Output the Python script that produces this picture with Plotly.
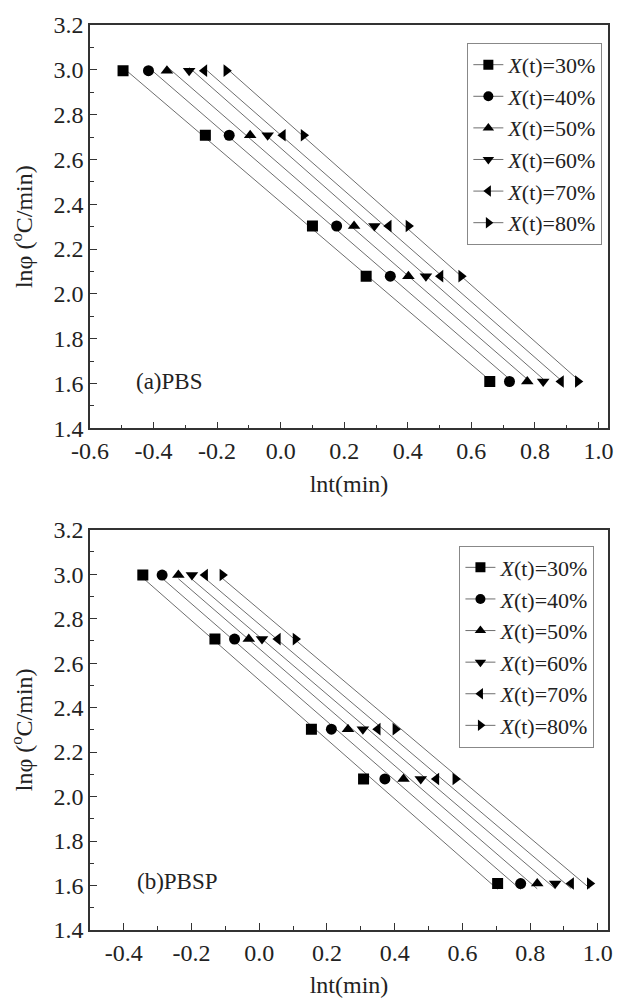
import numpy as np
import plotly.graph_objects as go

# ---- data ----
ln_phi = [2.996, 2.708, 2.303, 2.079, 1.609]
series_labels = ["30%", "40%", "50%", "60%", "70%", "80%"]
symbols = ["square", "circle", "triangle-up", "triangle-down", "triangle-left", "triangle-right"]

pbs_x30 = [-0.496, -0.237, 0.100, 0.269, 0.658]
pbs_x40 = [-0.416, -0.162, 0.176, 0.345, 0.720]
pbs_x50 = [-0.358, -0.096, 0.231, 0.402, 0.776]
pbs_x60 = [-0.288, -0.041, 0.295, 0.457, 0.826]
pbs_x70 = [-0.240, 0.007, 0.340, 0.503, 0.882]
pbs_x80 = [-0.171, 0.072, 0.402, 0.568, 0.935]

pbsp_x30 = [-0.344, -0.131, 0.154, 0.308, 0.704]
pbsp_x40 = [-0.287, -0.073, 0.213, 0.371, 0.772]
pbsp_x50 = [-0.239, -0.031, 0.262, 0.426, 0.821]
pbsp_x60 = [-0.199, 0.008, 0.306, 0.477, 0.874]
pbsp_x70 = [-0.160, 0.055, 0.350, 0.523, 0.921]
pbsp_x80 = [-0.109, 0.107, 0.402, 0.579, 0.976]

x_ticks_top = [-0.6, -0.4, -0.2, 0.0, 0.2, 0.4, 0.6, 0.8, 1.0]
x_ticks_bot = [-0.4, -0.2, 0.0, 0.2, 0.4, 0.6, 0.8, 1.0]
y_ticks = [1.4, 1.6, 1.8, 2.0, 2.2, 2.4, 2.6, 2.8, 3.0, 3.2]

panels = [
    dict(xs=[pbs_x30, pbs_x40, pbs_x50, pbs_x60, pbs_x70, pbs_x80], xa="x", ya="y", legend="legend"),
    dict(xs=[pbsp_x30, pbsp_x40, pbsp_x50, pbsp_x60, pbsp_x70, pbsp_x80], xa="x2", ya="y2", legend="legend2"),
]

FONT = "Times New Roman, Liberation Serif, serif"
TXT = "#222222"
LINE_C = "#6e6e6e"
W, H = 625, 1006
ML, MR, MT, MB = 90, 12, 22, 73
plot_h = H - MT - MB
plot_w = W - ML - MR

def py(px):
    return 1 - (px - MT) / plot_h

fig = go.Figure()
for p in panels:
    for xs, lab, sym in zip(p["xs"], series_labels, symbols):
        xarr = np.array(xs)
        yarr = np.array(ln_phi)
        b, a = np.polyfit(xarr, yarr, 1)
        xe = np.array([xarr.min(), xarr.max()])
        fig.add_trace(go.Scatter(x=xe, y=a + b * xe, mode="lines",
                                 line=dict(color=LINE_C, width=1),
                                 xaxis=p["xa"], yaxis=p["ya"], showlegend=False,
                                 hoverinfo="skip"))
        fig.add_trace(go.Scatter(x=xs, y=ln_phi, mode="markers",
                                 marker=dict(symbol=sym, color="black", size=11),
                                 xaxis=p["xa"], yaxis=p["ya"], showlegend=False))
        fig.add_trace(go.Scatter(x=[None], y=[None], mode="lines+markers",
                                 name=f"<i>X</i>(t)={lab}",
                                 line=dict(color=LINE_C, width=1),
                                 marker=dict(symbol=sym, color="black", size=10),
                                 xaxis=p["xa"], yaxis=p["ya"], legend=p["legend"]))


def make_axis(rng, tickvals, domain, anchor, title, standoff):
    return dict(
        showline=True, linecolor="#333333", linewidth=1.5, mirror=True,
        ticks="inside", ticklen=7, tickwidth=1.2, tickcolor="#333333",
        showgrid=False, zeroline=False,
        tickfont=dict(family=FONT, size=24, color=TXT),
        tickmode="array", tickvals=tickvals, ticktext=[f"{v:.1f}" for v in tickvals],
        minor=dict(ticks="inside", ticklen=4, tickwidth=1, tickcolor="#333333",
                   tickmode="linear", dtick=0.1, tick0=0),
        range=rng, domain=domain, anchor=anchor,
        title=dict(text=title, font=dict(family=FONT, size=24, color=TXT), standoff=standoff),
    )


top_dom = [py(428), 1.0]
bot_dom = [0.0, py(530)]

fig.update_layout(
    width=W, height=H,
    margin=dict(l=ML, r=MR, t=MT, b=MB),
    paper_bgcolor="white", plot_bgcolor="white",
    font=dict(family=FONT, color=TXT, size=24),
    xaxis=make_axis([-0.6, 1.03], x_ticks_top, [0, 1], "y", "lnt(min)", 12),
    yaxis=make_axis([1.4, 3.2], y_ticks, top_dom, "x", "lnφ (<sup>o</sup>C/min)", 14),
    xaxis2=make_axis([-0.5, 1.03], x_ticks_bot, [0, 1], "y2", "lnt(min)", 12),
    yaxis2=make_axis([1.4, 3.2], y_ticks, bot_dom, "x2", "lnφ (<sup>o</sup>C/min)", 14),
    legend=dict(x=(471 - ML) / plot_w, y=py(40), xanchor="left", yanchor="top",
                bordercolor="#888888", borderwidth=1, bgcolor="white",
                font=dict(family=FONT, size=22, color=TXT), tracegroupgap=0,
                itemwidth=30),
    legend2=dict(x=(463 - ML) / plot_w, y=py(546), xanchor="left", yanchor="top",
                 bordercolor="#888888", borderwidth=1, bgcolor="white",
                 font=dict(family=FONT, size=22, color=TXT), tracegroupgap=0,
                 itemwidth=30),
    annotations=[
        dict(text="(a)PBS", x=-0.46, y=1.61, xref="x", yref="y", showarrow=False,
             xanchor="left", yanchor="middle", font=dict(family=FONT, size=23, color=TXT)),
        dict(text="(b)PBSP", x=-0.368, y=1.62, xref="x2", yref="y2", showarrow=False,
             xanchor="left", yanchor="middle", font=dict(family=FONT, size=23, color=TXT)),
    ],
)

fig.write_html("out.html", config={"displayModeBar": False},
               post_script="document.body.style.margin='0';document.body.style.overflow='hidden';")
